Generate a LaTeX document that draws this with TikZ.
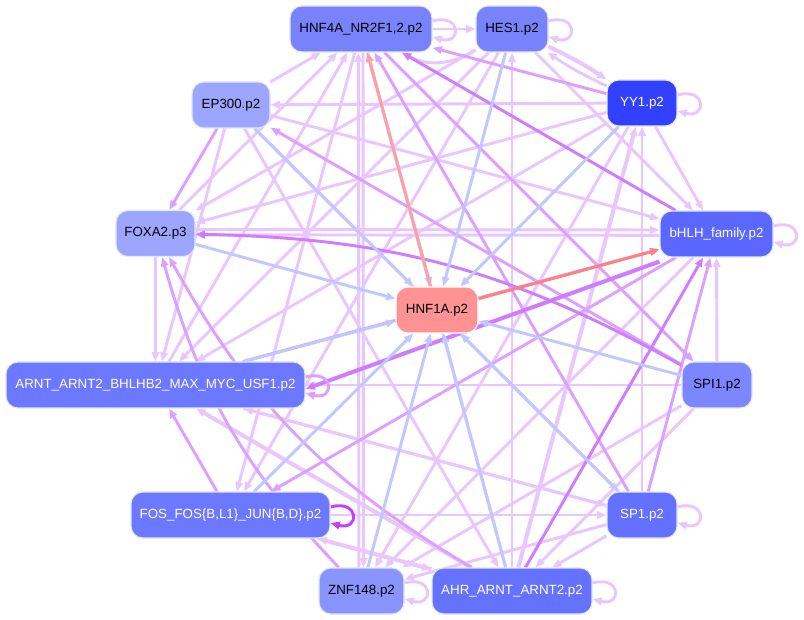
\documentclass[tikz,border=0pt]{standalone}
\usepackage{fontspec}
\setmainfont{Liberation Sans}
\usetikzlibrary{arrows.meta,backgrounds}
\definecolor{clt}{RGB}{234,198,255}
\definecolor{cmd}{RGB}{222,160,255}
\definecolor{cdk}{RGB}{208,124,255}
\definecolor{cbl}{RGB}{192,200,255}
\definecolor{csa}{RGB}{255,160,160}
\definecolor{csb}{RGB}{255,128,128}
\definecolor{cmg}{RGB}{196,64,255}
\definecolor{cbd}{RGB}{226,230,255}
\definecolor{nA}{RGB}{120,130,250}
\definecolor{nC}{RGB}{156,166,255}
\definecolor{nD}{RGB}{50,64,255}
\definecolor{nF}{RGB}{90,104,255}
\definecolor{nH}{RGB}{255,146,146}
\definecolor{nG}{RGB}{108,120,255}
\definecolor{nS}{RGB}{124,134,255}
\definecolor{nP}{RGB}{100,112,255}
\definecolor{nZ}{RGB}{138,148,255}
\definecolor{nR}{RGB}{100,114,255}
\tikzset{
  nd/.style={rectangle, rounded corners=9pt, minimum height=34.5pt, inner sep=0pt,
    draw=cbd, line width=0.8pt, font=\fontsize{10}{12}\selectfont},
  e/.style={line width=2.2pt, -{Triangle[length=7pt,width=5.5pt]}},
  lt/.style={e, draw=clt},
  md/.style={e, draw=cmd},
  dk/.style={e, draw=cdk},
  bl/.style={e, draw=cbl},
  sa/.style={e, draw=csa},
  sb/.style={e, draw=csb},
  mg/.style={e, draw=cmg},
  thk/.style={line width=3pt},
  lp/.style={to path={([yshift=6pt]\tikztostart.east) .. controls +(22pt,6pt) and +(22pt,-6pt) .. ([yshift=-6pt]\tikztostart.east)}}
}
\begin{document}
\begin{tikzpicture}[x=0.75pt,y=-0.75pt]
\useasboundingbox (0,0) rectangle (804,620);
\begin{pgfonlayer}{background}
\fill[white] (0,0) rectangle (804,620);
\end{pgfonlayer}
% nodes
\node[nd, fill=nA, text=black, minimum width=106.5pt] (A) at (361,29) {HNF4A\_NR2F1,2.p2};
\node[nd, fill=nA, text=black, minimum width=54pt] (B) at (512,29) {HES1.p2};
\node[nd, fill=nC, text=black, minimum width=58.5pt] (C) at (231,105) {EP300.p2};
\node[nd, fill=nD, text=white, minimum width=52.5pt] (D) at (642,103) {YY1.p2};
\node[nd, fill=nC, text=black, minimum width=59.25pt] (E) at (155.5,233.5) {FOXA2.p3};
\node[nd, fill=nF, text=white, minimum width=84.75pt] (F) at (716.5,234) {bHLH\_family.p2};
\node[nd, fill=nH, text=black, minimum width=61.5pt, draw=white] (H) at (437,310) {HNF1A.p2};
\node[nd, fill=nG, text=white, minimum width=224.25pt] (G) at (155.5,385) {ARNT\_ARNT2\_BHLHB2\_MAX\_MYC\_USF1.p2};
\node[nd, fill=nS, text=black, minimum width=52.5pt] (S) at (717,385) {SPI1.p2};
\node[nd, fill=nG, text=white, minimum width=149.25pt] (K) at (230.5,515) {FOS\_FOS\{B,L1\}\_JUN\{B,D\}.p2};
\node[nd, fill=nP, text=white, minimum width=52.5pt] (P) at (642,515) {SP1.p2};
\node[nd, fill=nZ, text=black, minimum width=63.75pt] (Z) at (361.5,591) {ZNF148.p2};
\node[nd, fill=nR, text=white, minimum width=120pt] (R) at (512,591) {AHR\_ARNT\_ARNT2.p2};
\begin{pgfonlayer}{background}
% light edges
\draw[lt] (C) -- (A);
\draw[lt] (E) -- (A);
\draw[lt] (G) -- (A);
\draw[lt] ([xshift=-2pt]Z.north) -- ([xshift=-2pt]A.south);
\draw[lt] ([xshift=1.5pt]A.south) -- ([xshift=1.5pt]Z.north);
\draw[lt] (R) -- (A);
\draw[lt] (A) -- (B);
\draw[lt] (B) to[bend left=30] (A);
\draw[lt] (D) -- (C);
\draw[lt] (C) -- (G);
\draw[lt] (C) -- (P);
\draw[lt] (C) -- (F);
\draw[lt] (E) -- (G);
\draw[lt] ([yshift=3pt]E.east) -- ([yshift=3pt]F.west);
\draw[lt] ([yshift=-1pt]F.west) -- ([yshift=-1pt]E.east);
\draw[lt] (B) -- (E);
\draw[lt] (D) -- (E);
\draw[lt] (B) -- (G);
\draw[lt] (D) -- (G);
\draw[lt] (S) -- (G);
\draw[lt] (P) -- (G);
\draw[lt,thk] (R) -- (G);
\draw[lt] (B) -- (K);
\draw[lt] (K) -- (P);
\draw[lt,thk] (R) -- (K);
\draw[lt] (P) -- (Z);
\draw[lt] (S) -- (Z);
\draw[lt] (F) -- (Z);
\draw[lt] (D) -- (Z);
\draw[lt] (P) -- (R);
\draw[lt] (C) -- (R);
\draw[lt,thk] (R) -- (D);
\draw[lt] (R) -- (B);
\draw[lt] (S) -- (F);
\draw[lt] (D) -- (F);
\draw[lt] (B) -- (F);
\draw[lt] (P) -- (D);
\draw[lt,thk] (B) to[bend left=4] (D);
\draw[lt] (D) to[bend left=4] (B);
\draw[lt] (S) -- (R);
\draw[lt] (K) -- (R);
\draw[lt] (A) -- (K);
\draw[lt] (G) -- (P);
% medium edges
\draw[md] (C) -- (E);
\draw[md] (D) -- (A);
\draw[md] (P) -- (A);
\draw[md] (S) -- (C);
\draw[md] (K) -- (G);
\draw[md] (F) -- (K);
\draw[md] (P) -- (F);
\draw[md] (R) to[bend left=15] (E);
\draw[md] (Z) to[bend left=14] (E);
\draw[md] (G) -- (F);
\draw[md] (A) -- (S);
% dark edges
\draw[dk] (F) -- (A);
\draw[dk] (S) to[bend right=14] (E);
\draw[dk,thk] ([yshift=-3pt]F.south west) -- ([yshift=-3pt]G.east);
\draw[dk] (R) -- (F);
% blue edges into HNF1A
\foreach \n in {A,B,C,D,E,G,S,K,Z,R,P} \draw[bl] (\n) -- (H);
% salmon
\draw[sa] (H) -- (A);
\draw[sb] (H) -- (F);
% self loops
\draw[lt] (A) to[lp] (A);
\draw[lt] (B) to[lp] (B);
\draw[lt] (D) to[lp] (D);
\draw[lt] (F) to[lp] (F);
\draw[md] (G) to[lp] (G);
\draw[mg] (K) to[lp] (K);
\draw[lt] (P) to[lp] (P);
\draw[lt] (Z) to[lp] (Z);
\draw[lt] (R) to[lp] (R);
\end{pgfonlayer}
\end{tikzpicture}
\end{document}
